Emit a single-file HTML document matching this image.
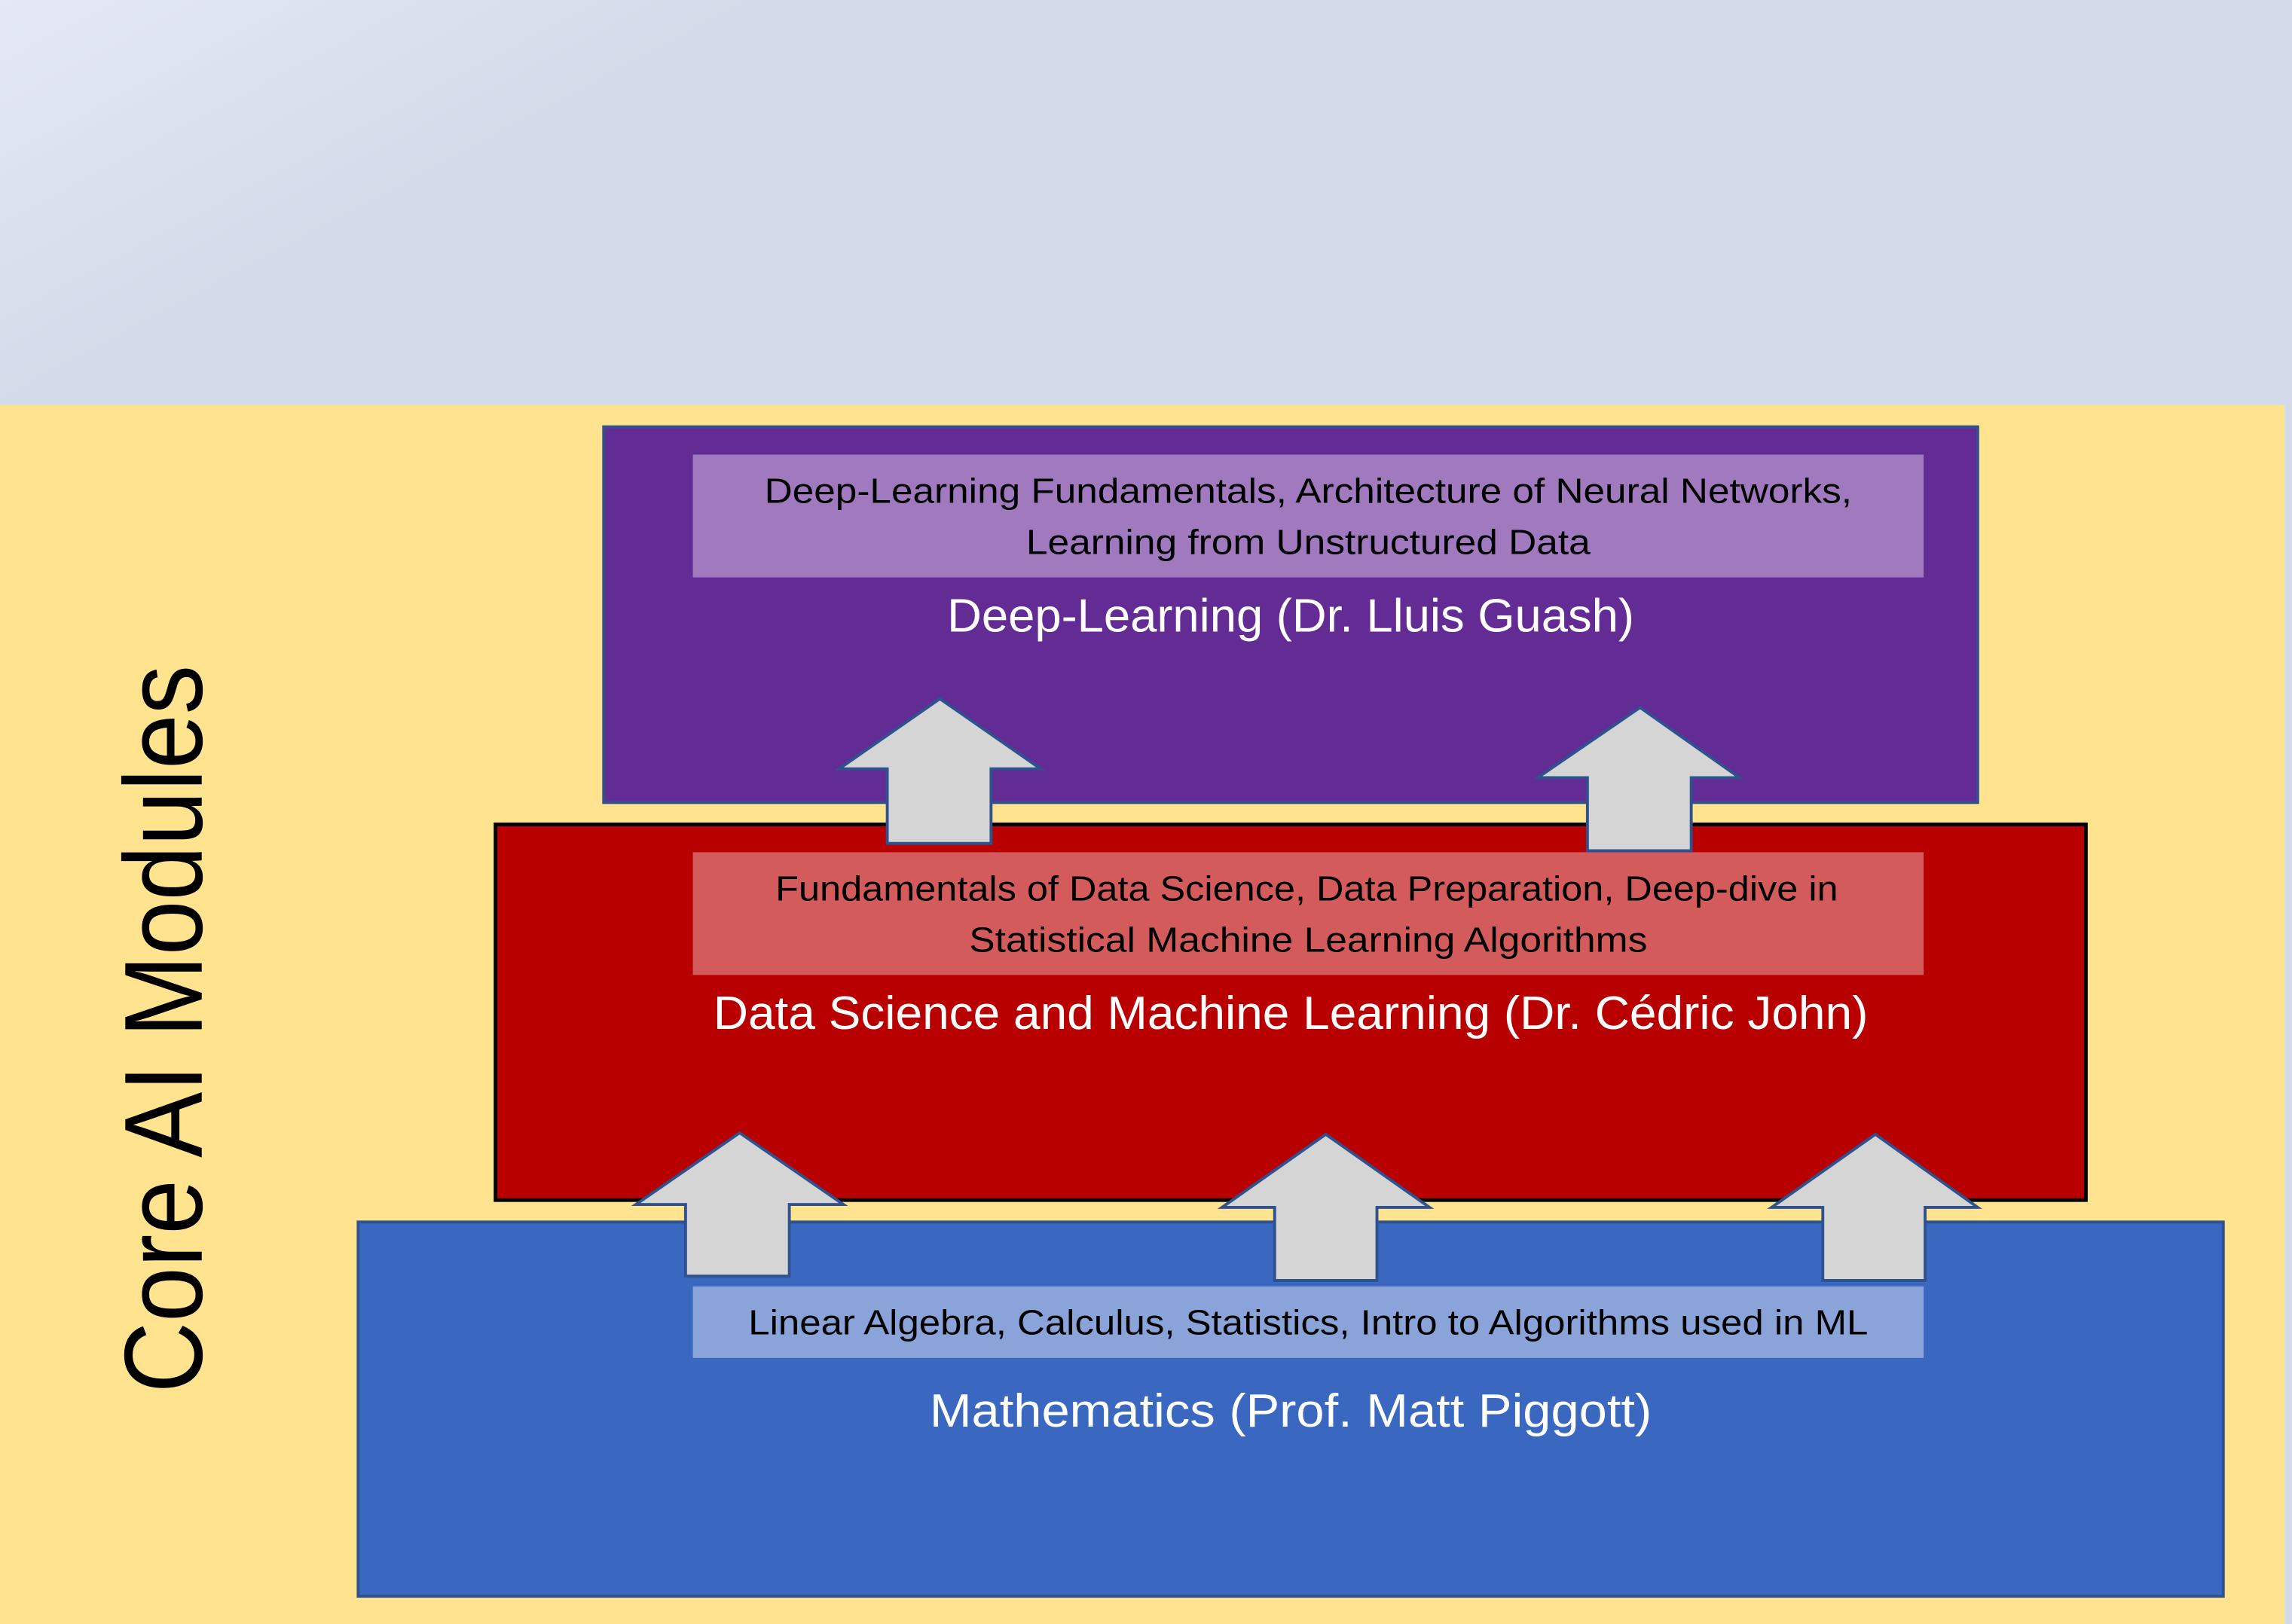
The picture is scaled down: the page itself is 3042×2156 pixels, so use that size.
<!DOCTYPE html>
<html><head><meta charset="utf-8"><style>html,body{margin:0;padding:0;width:3042px;height:2156px;overflow:hidden;background:#d3dbea}svg{display:block}</style></head>
<body>
<svg width="3042" height="2156" viewBox="0 0 1568 1111" preserveAspectRatio="none" xmlns="http://www.w3.org/2000/svg" font-family="Liberation Sans, sans-serif">
<defs><linearGradient id="g" x1="0" y1="0" x2="0.3" y2="0.4"><stop offset="0" stop-color="#e4e9f4"/><stop offset="0.4" stop-color="#d3dbea"/><stop offset="1" stop-color="#d3dbea"/></linearGradient></defs>
<rect x="0" y="0" width="1568" height="1111" fill="url(#g)"/>
<rect x="0" y="277" width="1563" height="834" fill="#ffe38f"/>
<!-- purple -->
<rect x="413" y="292" width="940" height="257" fill="#632b94" stroke="#2f528f" stroke-width="2"/>
<rect x="474" y="311" width="842" height="84" fill="#a079bf"/>
<g font-size="24" fill="#000" text-anchor="middle" lengthAdjust="spacingAndGlyphs">
<text x="895" y="344" textLength="744" lengthAdjust="spacingAndGlyphs">Deep-Learning Fundamentals, Architecture of Neural Networks,</text>
<text x="895" y="379" textLength="386" lengthAdjust="spacingAndGlyphs">Learning from Unstructured Data</text>
</g>
<text x="883" y="432" font-size="32" fill="#fff" text-anchor="middle" textLength="470" lengthAdjust="spacingAndGlyphs">Deep-Learning (Dr. Lluis Guash)</text>
<!-- red -->
<rect x="339" y="564" width="1088" height="257" fill="#b80000" stroke="#000" stroke-width="2.5"/>
<rect x="474" y="583" width="842" height="84" fill="#d45b5b"/>
<text x="894" y="616" font-size="24" text-anchor="middle" textLength="727" lengthAdjust="spacingAndGlyphs">Fundamentals of Data Science, Data Preparation, Deep-dive in</text>
<text x="895" y="651" font-size="24" text-anchor="middle" textLength="464" lengthAdjust="spacingAndGlyphs">Statistical Machine Learning Algorithms</text>
<text x="883" y="704" font-size="32" fill="#fff" text-anchor="middle" textLength="790" lengthAdjust="spacingAndGlyphs">Data Science and Machine Learning (Dr. Cédric John)</text>
<!-- blue -->
<rect x="245" y="836" width="1276" height="256" fill="#3a67bf" stroke="#2f528f" stroke-width="2"/>
<rect x="474" y="880" width="842" height="49" fill="#8aa3d9"/>
<text x="895" y="913" font-size="24" text-anchor="middle" textLength="766" lengthAdjust="spacingAndGlyphs">Linear Algebra, Calculus, Statistics, Intro to Algorithms used in ML</text>
<text x="883" y="976" font-size="32" fill="#fff" text-anchor="middle" textLength="494" lengthAdjust="spacingAndGlyphs">Mathematics (Prof. Matt Piggott)</text>
<!-- arrows -->
<g fill="#d5d5d5" stroke="#2f528f" stroke-width="2">
<polygon points="643,478 712,526 678,526 678,577 607,577 607,526 574,526"/>
<polygon points="1122,484 1190,532 1157,532 1157,582 1086,582 1086,532 1052,532"/>
<polygon points="506,775 577,824 540,824 540,873 469,873 469,824 435,824"/>
<polygon points="907,776 978,826 942,826 942,876 872,876 872,826 836,826"/>
<polygon points="1283,776 1353,826 1317,826 1317,876 1247,876 1247,826 1212,826"/>
</g>
<text transform="translate(138,704) rotate(-90)" font-size="76" fill="#000" text-anchor="middle" textLength="498" lengthAdjust="spacingAndGlyphs">Core AI Modules</text>
</svg>
</body></html>
